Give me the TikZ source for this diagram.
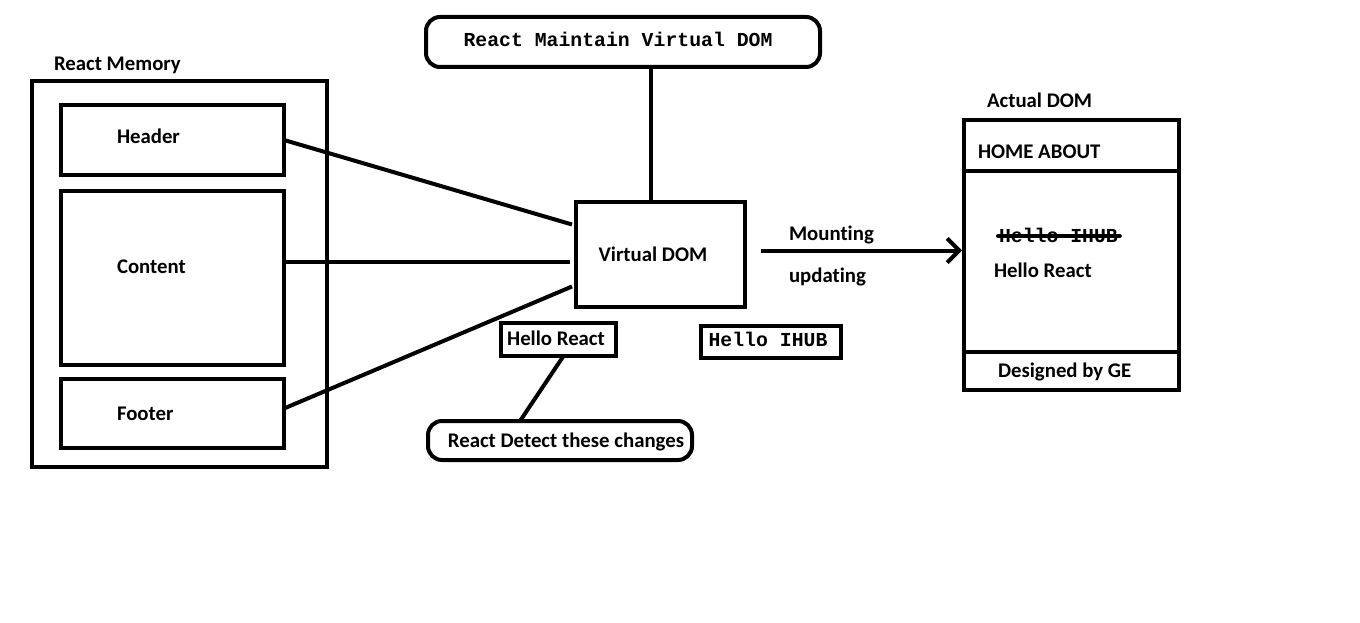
\documentclass[tikz,border=0pt]{standalone}
\usepackage{fontspec}
\setmainfont{Carlito}[Ligatures=NoCommon]
\newfontfamily\monofont{Liberation Mono}
\usetikzlibrary{arrows.meta}

\begin{document}
\begin{tikzpicture}[x=1pt, y=-1pt, line width=4pt,
		every node/.style={font=\fontsize{20.8}{24}\selectfont\bfseries, inner sep=0pt, outer sep=0pt, text height=13.4pt, text depth=0pt}]
			\useasboundingbox (0,0) rectangle (1360,623);
			
			\begin{scope}[
				box/.style={draw, rectangle, minimum width=#1},
				pill/.style={draw, rectangle, rounded corners=14pt, minimum width=#1},
				mono/.style={font=\fontsize{19.8}{23}\selectfont\monofont\bfseries, text height=11.5pt}]
				% react memory
				\node[box=295pt, minimum height=386pt] (Mem) at (179.5, 274) {};
				\node[box=223pt, minimum height=70pt] (Hd) at (172.5, 140) {};
				\node[box=223pt, minimum height=174pt] (Ct) at (172.5, 278) {};
				\node[box=223pt, minimum height=69pt] (Ft) at (172.5, 413.5) {};
				
				% virtual dom
				\node[pill=394pt, minimum height=50pt] (RM) at (623, 42) {};
				\node[box=169pt, minimum height=105pt] (VD) at (660.5, 254.5) {};
				\node[box=115pt, minimum height=33pt] (HR) at (558.5, 339.5) {};
				\node[box=140pt, minimum height=32pt] (HI) at (771, 342) {};
				\node[pill=264pt, minimum height=39pt] (RD) at (560, 440.5) {};
				
				% actual dom
				\node[box=215pt, minimum height=270pt] (AD) at (1071.5, 255) {};
				
				\node[anchor=west] (L1) at (54, 64) {React Memory};
				\node[anchor=west] (L2) at (117, 137) {Header};
				\node[anchor=west] (L3) at (117, 267) {Content};
				\node[anchor=west] (L4) at (117, 414) {Footer};
				\node[mono] (L5) at (618, 41) {React Maintain Virtual DOM};
				\node (L6) at (653, 255) {Virtual DOM};
				\node (L7) at (556, 339) {Hello React};
				\node[mono] (L8) at (768, 341) {Hello IHUB};
				\node (L9) at (566, 441) {React Detect these changes};
				\node[anchor=west] (L10) at (789, 234) {Mounting};
				\node[anchor=west] (L11) at (789, 276) {updating};
				\node[anchor=west] (L12) at (987, 101) {Actual DOM};
				\node[anchor=west] (L13) at (978, 152) {HOME ABOUT};
				\node[mono, anchor=west] (L14) at (999, 237) {Hello IHUB};
				\node[anchor=west] (L15) at (994, 271) {Hello React};
				\node[anchor=west] (L16) at (998, 371) {Designed by GE};
			\end{scope}
			
			\draw[-] (Hd.east) -- ([xshift=-4pt, yshift=30pt]VD.west);
			\draw[-] ([yshift=16pt]Ct.east) -- ([xshift=-6pt, yshift=16pt]Ct.east -| VD.west);
			\draw[-] ([yshift=5pt]Ft.east) -- ([xshift=-4pt, yshift=-32pt]VD.west);
			\draw[-] ([xshift=-10pt]VD.north) -- ([xshift=-10pt]VD.north |- RM.south);
			\draw[-] ([xshift=5pt]HR.south) -- ([xshift=-40pt]RD.north);
			\draw[-{Straight Barb[length=12pt, width=24pt, line width=4pt]}] ([xshift=16pt, yshift=4pt]VD.east) -- ([xshift=-2pt, yshift=4pt]VD.east -| AD.west);
			\draw[-] ([yshift=-51pt]AD.north west) -- ([yshift=-51pt]AD.north east);
			\draw[-] ([yshift=38pt]AD.south west) -- ([yshift=38pt]AD.south east);
			\draw[-, line cap=round] ([xshift=-1pt, yshift=1pt]L14.west) -- ([xshift=2pt, yshift=1pt]L14.east);
		\end{tikzpicture}
\end{document}
